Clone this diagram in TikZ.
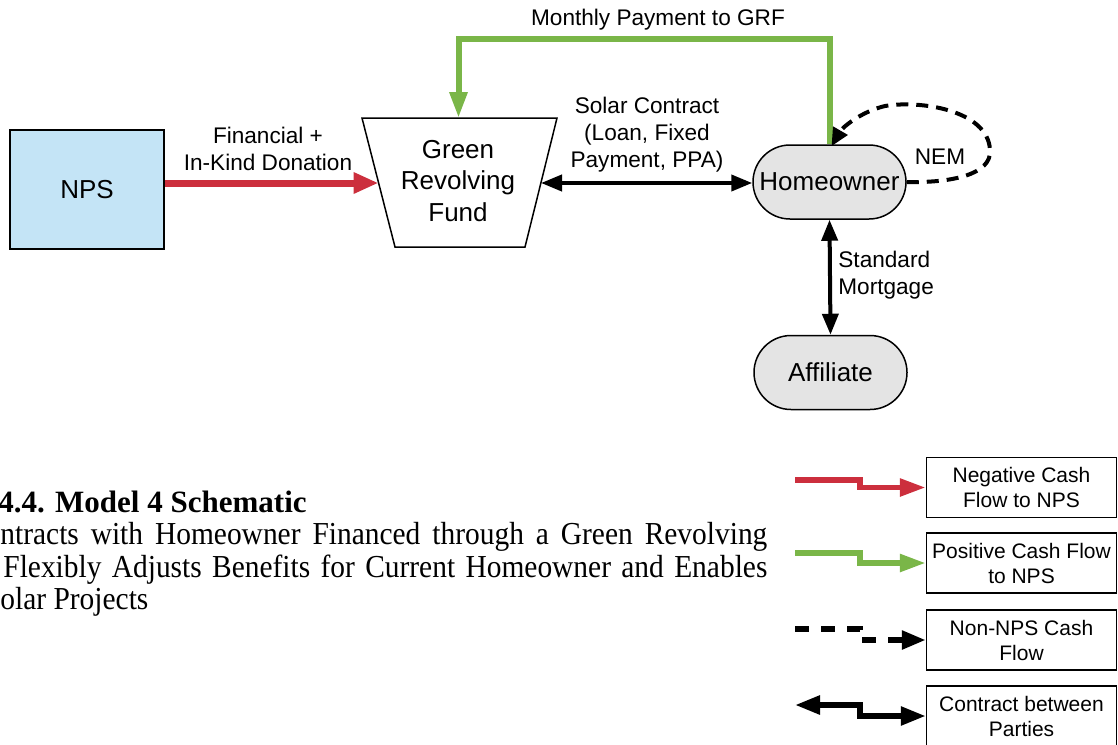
\documentclass[tikz,border=0pt]{standalone}
\usepackage{fontspec}
\setmainfont{Liberation Sans}
\newfontfamily\captionserif[FakeStretch=0.92]{Liberation Serif}
\newfontfamily\captionserifbf{Liberation Serif Bold}
\usetikzlibrary{arrows.meta,calc}
\definecolor{flowred}{HTML}{CC2F3D}
\definecolor{flowgreen}{HTML}{7AB648}
\definecolor{npsblue}{HTML}{C4E4F6}
\definecolor{partygray}{HTML}{E4E4E4}
\tikzset{
  nodefont/.style={font=\fontsize{13}{15.8}\selectfont},
  lblfont/.style={font=\fontsize{11.3}{13.5}\selectfont},
  legfont/.style={font=\fontsize{10.5}{12.5}\selectfont},
  outline/.style={draw, line width=0.75pt},
  party/.style={outline, fill=partygray, rounded corners=18.5pt,
    minimum width=76.5pt, minimum height=37pt, inner sep=0pt, nodefont},
  lbl/.style={align=center, inner sep=0pt, lblfont},
  legbox/.style={outline, minimum width=95pt, minimum height=30pt,
    align=center, inner sep=0pt, legfont},
  redflow/.style={draw=flowred, line width=3.5pt, -{Triangle[length=12.5pt,width=10pt]}},
  greenflow/.style={draw=flowgreen, line width=3pt, -{Triangle[length=13pt,width=8.5pt]}},
  contract/.style={line width=2pt, {Triangle[length=10.5pt,width=8pt]}-{Triangle[length=10.5pt,width=8pt]}},
  nonnps/.style={line width=2pt, dash pattern=on 6pt off 4pt, -{Triangle[length=9pt,width=8pt]}},
  legred/.style={draw=flowred, line width=2.8pt, -{Triangle[length=13pt,width=8.5pt]}},
  leggreen/.style={draw=flowgreen, line width=2.8pt, -{Triangle[length=13pt,width=8.5pt]}},
  legdash/.style={line width=2.8pt, dash pattern=on 7pt off 6pt, -{Triangle[length=12pt,width=9pt]}},
  legcontract/.style={line width=2.8pt, {Triangle[length=12.5pt,width=9pt]}-{Triangle[length=12.5pt,width=9pt]}},
  captext/.style={anchor=base west, inner sep=0pt, font=\captionserif\fontsize{16}{19}\selectfont},
}
\begin{document}
\begin{tikzpicture}[x=0.5pt, y=-0.5pt]
\useasboundingbox (0,0) rectangle (1118,744);

% parties
\node[outline, fill=npsblue, minimum width=77pt, minimum height=59.5pt,
  inner sep=0pt, nodefont] (nps) at (87,189.5) {NPS};

% green revolving fund: funnel-shaped trapezoid around its label
\coordinate (gtl) at (362,118);
\coordinate (gtr) at (557,118);
\coordinate (gbr) at (525,247);
\coordinate (gbl) at (395,247);
\coordinate (grftop) at (458.5,118);
\coordinate (grfleft) at (378.5,183);
\coordinate (grfright) at (541,183);
\draw[line width=0.75pt] (gtl) -- (gtr) -- (gbr) -- (gbl) -- cycle;
\node[align=center, inner sep=0pt, nodefont] (grf) at (458,181) {Green\\Revolving\\Fund};

\node[party] (ho) at (829.5,182) {Homeowner};
\node[party] (aff) at (830.5,372.5) {Affiliate};

% flows and contracts
\draw[redflow] (grfleft -| nps.east) -- (grfleft);
\node[lbl] (finlbl) at (268,149) {Financial +\\In-Kind Donation};

\draw[greenflow] (ho.north) -- ++(0,-105) -| (grftop);
\node[lbl] (paylbl) at (658,20) {Monthly Payment to GRF};

\draw[contract] (grfright) -- (grfright -| ho.west);
\node[lbl] (solarlbl) at (647,135) {Solar Contract\\(Loan, Fixed\\Payment, PPA)};

\draw[contract] (ho.south) -- (aff.north);
\node[lbl, align=left, anchor=west] (mortlbl) at (838,275) {Standard\\Mortgage};

\draw[nonnps] (ho.east) .. controls (950,183) and (992,175) .. (990,150)
  .. controls (988,110) and (920,100) .. (885,106)
  .. controls (860,112) and (842,128) .. ([xshift=1pt,yshift=-1pt]ho.north);
\node[lbl] (nemlbl) at (940,157) {NEM};

% caption
\node[anchor=base west, inner sep=0pt, font=\captionserifbf\fontsize{15.5}{18}\selectfont]
  (caphead) at (-2,512) {4.4. Model 4 Schematic};
\node[captext] (cap1) at (0,544) {\makebox[383.5pt][s]{ntracts with Homeowner Financed through a Green Revolving}};
\node[captext] (cap2) at (3,577) {\makebox[382pt][s]{Flexibly Adjusts Benefits for Current Homeowner and Enables}};
\node[captext] (cap3) at (0,609) {olar Projects};

% legend
\node[legbox] (leg1) at (1021.5,487.5) {Negative Cash\\Flow to NPS};
\node[legbox] (leg2) at (1021.5,563) {Positive Cash Flow\\to NPS};
\node[legbox] (leg3) at (1021.5,640) {Non-NPS Cash\\Flow};
\node[legbox] (leg4) at (1021.5,716) {Contract between\\Parties};

\coordinate (l1) at (795,480);
\coordinate (l2) at (795,553);
\coordinate (l3) at (795,629);
\coordinate (l4) at (795,705);
\draw[legred] (l1) -- ++(65,0) |- (leg1.west);
\draw[leggreen] (l2) -- ++(65,0) |- (leg2.west);
\draw[legdash] (l3) -- ++(65,0) |- (leg3.west);
\draw[legcontract] (l4) -- ++(65,0) |- (leg4.west);
\end{tikzpicture}
\end{document}
